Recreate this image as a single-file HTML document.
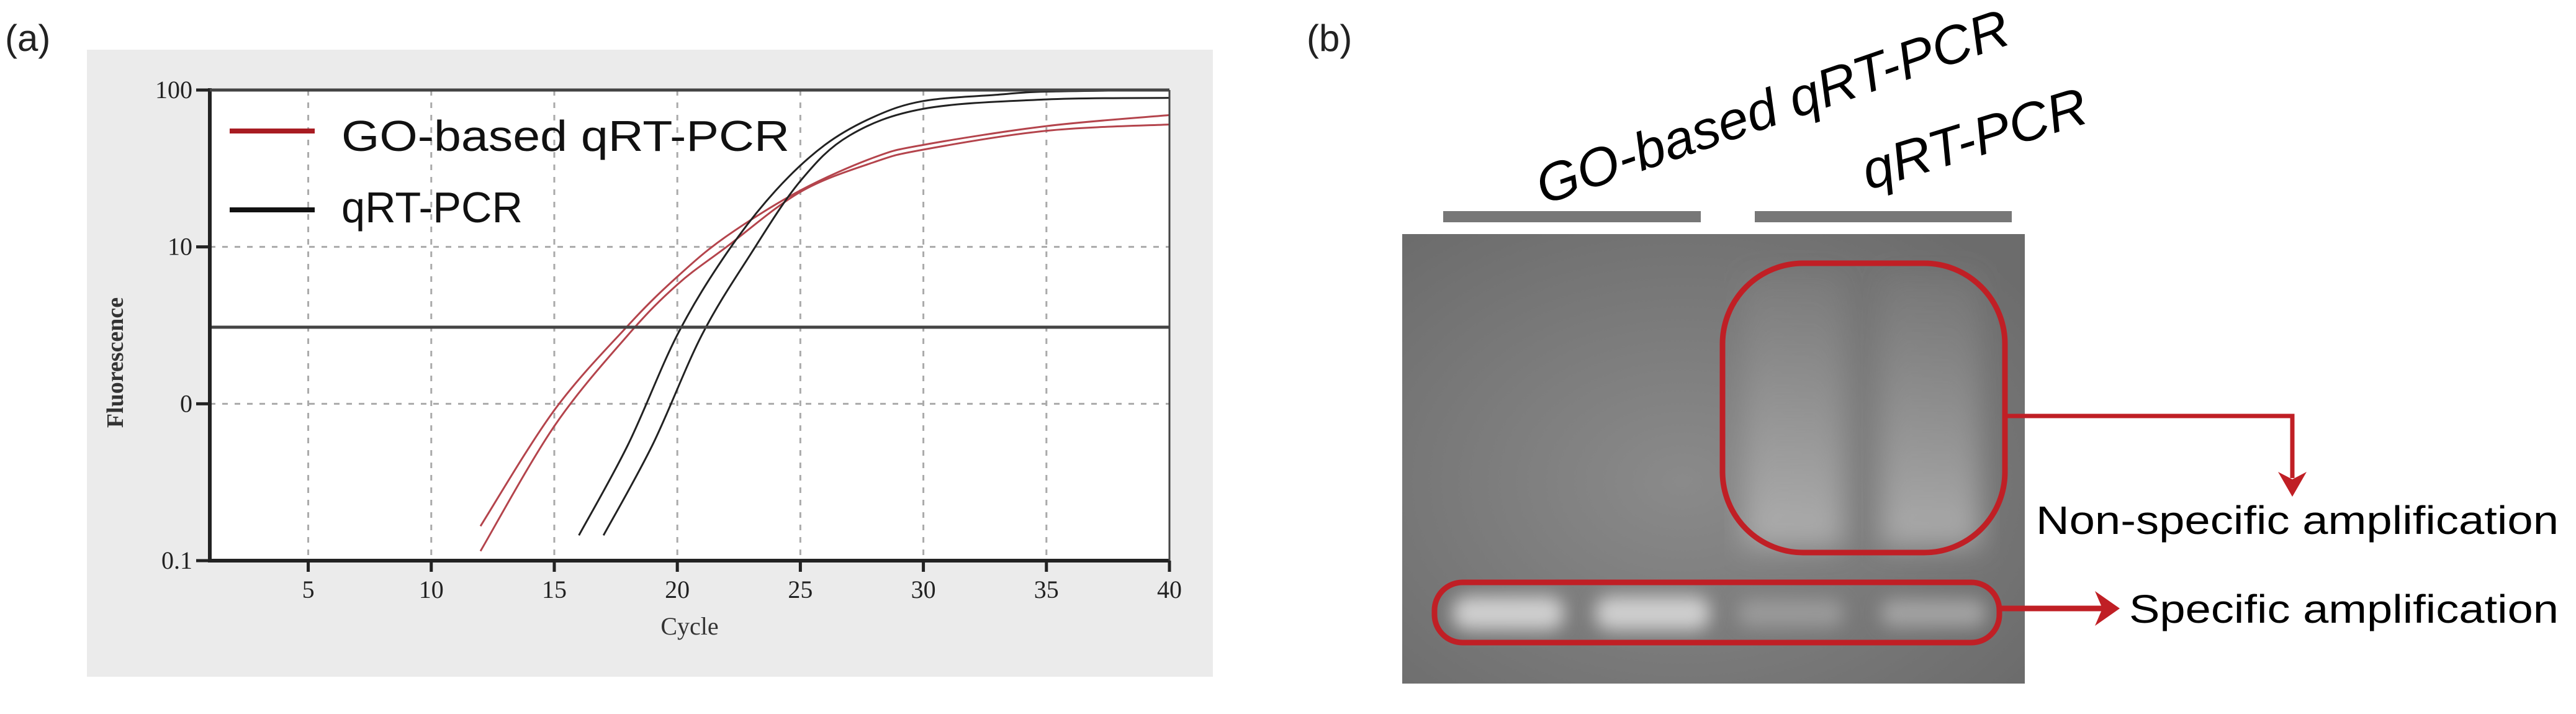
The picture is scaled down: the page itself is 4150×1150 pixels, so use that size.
<!DOCTYPE html>
<html><head><meta charset="utf-8"><style>
html,body{margin:0;padding:0;background:#fff;}
svg{display:block;}
</style></head><body>
<svg id="fig" xmlns="http://www.w3.org/2000/svg" width="4150" height="1150" viewBox="0 0 4150 1150">
<defs>
  <filter id="blur" x="-20%" y="-50%" width="140%" height="200%"><feGaussianBlur stdDeviation="14"/></filter>
  <filter id="blur2" x="-20%" y="-20%" width="140%" height="140%"><feGaussianBlur stdDeviation="22"/></filter>
  <radialGradient id="gelg" cx="0.45" cy="0.55" r="0.7">
    <stop offset="0" stop-color="#8a8a8a"/><stop offset="1" stop-color="#6c6c6c"/>
  </radialGradient>
  <linearGradient id="smear" x1="0" y1="0" x2="0" y2="1">
    <stop offset="0" stop-color="#9a9a9a" stop-opacity="0.15"/><stop offset="1" stop-color="#bdbdbd" stop-opacity="0.75"/>
  </linearGradient>
</defs>

<!-- Panel (a) -->
<text x="8" y="82" font-family="Liberation Sans, sans-serif" font-size="60" fill="#222">(a)</text>
<rect x="140" y="80" width="1814" height="1010" fill="#ebebeb"/>
<rect x="338" y="145" width="1546" height="758" fill="#fff"/>
<g id="grid"></g>
<g id="curves"></g>
<line x1="338" y1="527" x2="1884" y2="527" stroke="#444" stroke-width="5"/>
<g id="axes"></g>
<text x="198" y="584" transform="rotate(-90 198 584)" text-anchor="middle" font-family="Liberation Serif, serif" font-weight="bold" font-size="38" fill="#333">Fluorescence</text>
<text x="1111" y="1022" text-anchor="middle" font-family="Liberation Serif, serif" font-size="40" fill="#333">Cycle</text>
<g>
  <line x1="370" y1="211" x2="507" y2="211" stroke="#a81c22" stroke-width="8"/>
  <text x="550" y="243" font-family="Liberation Sans, sans-serif" font-size="70" fill="#111" textLength="722" lengthAdjust="spacingAndGlyphs">GO-based qRT-PCR</text>
  <line x1="370" y1="338" x2="507" y2="338" stroke="#111" stroke-width="8"/>
  <text x="550" y="358" font-family="Liberation Sans, sans-serif" font-size="70" fill="#111" textLength="292" lengthAdjust="spacingAndGlyphs">qRT-PCR</text>
</g>

<!-- Panel (b) -->
<text x="2105" y="82" font-family="Liberation Sans, sans-serif" font-size="60" fill="#222">(b)</text>
<rect x="2325" y="340" width="415" height="18" fill="#777"/>
<rect x="2827" y="340" width="414" height="18" fill="#777"/>
<text transform="translate(2487,330) rotate(-19)" font-family="Liberation Sans, sans-serif" font-style="italic" font-size="86" fill="#000" textLength="800" lengthAdjust="spacingAndGlyphs">GO-based qRT-PCR</text>
<text transform="translate(3010,306) rotate(-17)" font-family="Liberation Sans, sans-serif" font-style="italic" font-size="86" fill="#000" textLength="375" lengthAdjust="spacingAndGlyphs">qRT-PCR</text>
<g>
  <rect x="2259" y="377" width="1003" height="724" fill="url(#gelg)"/>
  <rect x="2810" y="440" width="160" height="440" fill="url(#smear)" filter="url(#blur2)"/>
  <rect x="3030" y="440" width="160" height="440" fill="url(#smear)" filter="url(#blur2)"/>
  <rect x="2340" y="960" width="180" height="55" rx="25" fill="#cfcfcf" filter="url(#blur)"/>
  <rect x="2570" y="960" width="185" height="55" rx="25" fill="#cfcfcf" filter="url(#blur)"/>
  <rect x="2800" y="965" width="170" height="45" rx="20" fill="#9a9a9a" filter="url(#blur)"/>
  <rect x="3030" y="965" width="170" height="45" rx="20" fill="#a3a3a3" filter="url(#blur)"/>
</g>
<rect x="2775" y="424" width="455" height="466" rx="130" fill="none" stroke="#c01f25" stroke-width="9"/>
<rect x="2311" y="938" width="910" height="97" rx="45" fill="none" stroke="#c01f25" stroke-width="9"/>
<polyline points="3230,670 3693,670 3693,770" fill="none" stroke="#c01f25" stroke-width="7"/>
<polygon points="3670,760 3693,800 3716,760 3693,772" fill="#c01f25"/>
<line x1="3221" y1="980" x2="3390" y2="980" stroke="#c01f25" stroke-width="9"/>
<polygon points="3375,952 3415,980 3375,1008 3387,980" fill="#c01f25"/>
<text x="3280" y="860" font-family="Liberation Sans, sans-serif" font-size="64" fill="#000" textLength="842" lengthAdjust="spacingAndGlyphs">Non-specific amplification</text>
<text x="3430" y="1003" font-family="Liberation Sans, sans-serif" font-size="64" fill="#000" textLength="692" lengthAdjust="spacingAndGlyphs">Specific amplification</text>
</svg>
<script>
const xTicks = [5, 10, 15, 20, 25, 30, 35, 40];
const yTicks = [0.1, 1, 10, 100];
const yTickLabels = ["0.1", "0", "10", "100"];
const goCycles1 = [12, 15, 18, 20, 22, 25, 28, 30, 35, 40];
const goValues1 = [0.166, 0.91, 3.16, 6.46, 11.7, 22.9, 37.2, 44.7, 58.9, 69.2];
const goCycles2 = [12, 15, 18, 20, 22, 25, 28, 30, 35, 40];
const goValues2 = [0.115, 0.72, 2.75, 5.75, 10, 22.4, 34.7, 41.7, 55, 60.3];
const qCycles1 = [16, 18, 20, 22, 24, 26, 28, 30, 33, 35, 40];
const qValues1 = [0.145, 0.55, 2.75, 9.1, 22.9, 44.7, 67.6, 85.1, 93.3, 97.7, 100];
const qCycles2 = [17, 19, 21, 23, 25, 27, 30, 35, 40];
const qValues2 = [0.145, 0.55, 2.75, 9.1, 26.3, 51.3, 75.9, 87.1, 89.1];

const NS = "http://www.w3.org/2000/svg";
const L = 338, R = 1884, T = 145, B = 903;
function xs(c){ return L + (c - 1) / 39 * (R - L); }
function ys(v){ return B - (Math.log10(v) + 1) / 3 * (B - T); }
function mk(tag, attrs, parent){
  const e = document.createElementNS(NS, tag);
  for (const k in attrs) e.setAttribute(k, attrs[k]);
  parent.appendChild(e); return e;
}
const grid = document.getElementById('grid');
xTicks.forEach(c => {
  const g = mk('line', {x1: xs(c), x2: xs(c), y1: T, y2: B, stroke: '#aaa', 'stroke-width': 3, 'stroke-dasharray': '9 11'}, grid);
  
  
});
yTicks.slice(1).forEach(v => {
  const g = mk('line', {x1: L, x2: R, y1: ys(v), y2: ys(v), stroke: '#aaa', 'stroke-width': 3, 'stroke-dasharray': '9 11'}, grid);
  
  
});
function smooth(pts){
  let d = 'M' + pts[0][0] + ',' + pts[0][1];
  for (let i = 0; i < pts.length - 1; i++){
    const p0 = pts[i-1] || pts[i], p1 = pts[i], p2 = pts[i+1], p3 = pts[i+2] || p2;
    const c1 = [p1[0] + (p2[0]-p0[0])/6, p1[1] + (p2[1]-p0[1])/6];
    const c2 = [p2[0] - (p3[0]-p1[0])/6, p2[1] - (p3[1]-p1[1])/6];
    d += ' C' + c1[0] + ',' + c1[1] + ' ' + c2[0] + ',' + c2[1] + ' ' + p2[0] + ',' + p2[1];
  }
  return d;
}
const curves = document.getElementById('curves');
function drawCurve(cs, vs, color, name){
  const pts = cs.map((c, i) => [xs(c), ys(vs[i])]);
  const p = mk('path', {d: smooth(pts), fill: 'none', stroke: color, 'stroke-width': 3}, curves);
  
  
}
drawCurve(goCycles1, goValues1, '#b4444c', 'go-curve-1');
drawCurve(goCycles2, goValues2, '#b4444c', 'go-curve-2');
drawCurve(qCycles1, qValues1, '#222', 'qrt-curve-1');
drawCurve(qCycles2, qValues2, '#222', 'qrt-curve-2');

const axes = document.getElementById('axes');
mk('line', {x1: L, x2: L, y1: T - 3, y2: B + 3, stroke: '#222', 'stroke-width': 6}, axes);
mk('line', {x1: L, x2: R, y1: B, y2: B, stroke: '#222', 'stroke-width': 6}, axes);
mk('line', {x1: L, x2: R, y1: T, y2: T, stroke: '#444', 'stroke-width': 5}, axes);
mk('line', {x1: R, x2: R, y1: T, y2: B, stroke: '#444', 'stroke-width': 3}, axes);
yTicks.forEach((v, i) => {
  mk('line', {x1: L - 22, x2: L, y1: ys(v), y2: ys(v), stroke: '#222', 'stroke-width': 5}, axes);
  const t = mk('text', {x: L - 28, y: ys(v) + 13, 'text-anchor': 'end', 'font-family': 'Liberation Serif, serif', 'font-size': 40, fill: '#222'}, axes);
  t.textContent = yTickLabels[i];
  
  
});
xTicks.forEach(c => {
  mk('line', {x1: xs(c), x2: xs(c), y1: B, y2: B + 18, stroke: '#222', 'stroke-width': 5}, axes);
  const t = mk('text', {x: xs(c), y: B + 60, 'text-anchor': 'middle', 'font-family': 'Liberation Serif, serif', 'font-size': 40, fill: '#222'}, axes);
  t.textContent = String(c);
  
  
});
</script>
</body></html>
